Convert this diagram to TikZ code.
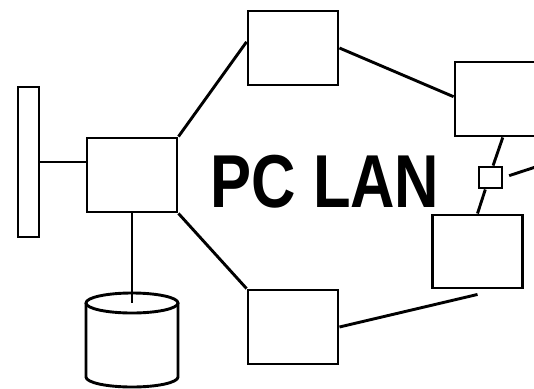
\documentclass[tikz,border=0pt]{standalone}
\usepackage{fontspec}
\setmainfont{Liberation Sans}
\usetikzlibrary{calc}
\tikzset{
  unit/.style={draw, line width=2.9pt, fill=white, inner sep=0pt, minimum width=90pt, minimum height=74pt},
  link/.style={line width=2.9pt},
}
\begin{document}
\begin{tikzpicture}[x=1pt,y=-1pt]
\useasboundingbox (0,0) rectangle (534,388);
\clip (0,0) rectangle (534,388);
% wall bar and central workstation
\node[unit, minimum width=21pt, minimum height=150pt] (bar) at (28.5,162) {};
\node[unit] (hub) at (132,175) {};
% ring of stations
\node[unit] (top) at (293,48) {};
\node[unit] (bot) at (293,327) {};
\node[unit] (rtop) at (500,99) {};
\node[unit, minimum height=73pt] (rbot) at (477.5,251.5) {};
\node[unit, minimum width=23pt, minimum height=21pt] (sq) at (490.5,177.5) {};
% disk drive: sides, front rim and lid
\coordinate (disk) at (132,303);
\draw[link, fill=white] (86,303) -- (86,377) arc[start angle=180, end angle=360, x radius=46pt, y radius=10pt]
  -- (178,303);
\draw[link] (disk) ellipse[x radius=46pt, y radius=10pt];
% connections
\draw[link] (bar.east) -- (bar.east -| hub.west);
\draw[link] (hub.south) -- (disk);
\draw[link] (hub.north east) -- ($(top.north west)!0.42!(top.south west)$);
\draw[link] (hub.south east) -- (bot.north west);
\draw[link] (top.east) -- ($(rtop.north west)!0.47!(rtop.south west)$);
\draw[link] ($(rtop.south west)!0.53!(rtop.south east)$) -- ($(sq.north west)!0.6!(sq.north east)$);
\draw[link] ($(sq.south west)!0.3!(sq.south east)$) -- (rbot.north);
\coordinate (ext) at (560,159);
\draw[link] ($(sq.east)!6pt!(ext)$) -- (ext);
\coordinate (tail) at ($(rbot.south)+(0,5)$);
\draw[link] (bot.east) -- (tail);
% title
\node[anchor=base, inner sep=0pt, xscale=0.82] (title) at (325,207) {\fontsize{75}{75}\selectfont\bfseries PC LAN};
\end{tikzpicture}
\end{document}
